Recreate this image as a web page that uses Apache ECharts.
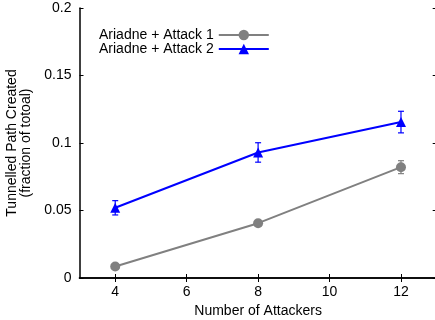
<!DOCTYPE html>
<html>
<head>
<meta charset="utf-8">
<script src="https://cdn.jsdelivr.net/npm/echarts@6/dist/echarts.min.js"></script>
<style>
html,body{margin:0;padding:0;background:#fff;}
#c{width:435px;height:320px;}
</style>
</head>
<body>
<div id="c"></div>
<script>
const attackers = [4, 8, 12];
const attack1 = [0.0085, 0.0406, 0.0821];
const attack1Err = [0.0008, 0.0015, 0.0048];
const attack2 = [0.0520, 0.0930, 0.1155];
const attack2Err = [0.0053, 0.0072, 0.0080];
const xTicks = [4, 6, 8, 10, 12];
const seriesNames = ['Ariadne + Attack 1', 'Ariadne + Attack 2'];
const xTitle = 'Number of Attackers';
const yTitle = 'Tunnelled Path Created\n(fraction of totoal)';

const FONT = 'Liberation Sans, Arial, Helvetica, sans-serif';
const GRAY = '#808080';
const BLUE = '#0000ff';

function pts(vals) { return attackers.map((x, i) => [x, vals[i]]); }
function errs(vals, e) { return attackers.map((x, i) => [x, vals[i] - e[i], vals[i] + e[i]]); }

function errRender(color) {
  return function (params, api) {
    const x = api.value(0);
    const lo = api.coord([x, api.value(1)]);
    const hi = api.coord([x, api.value(2)]);
    const hw = 3;
    const style = { stroke: color, lineWidth: 1.2, fill: null };
    return {
      type: 'group',
      children: [
        { type: 'line', shape: { x1: lo[0], y1: lo[1], x2: hi[0], y2: hi[1] }, style: style },
        { type: 'line', shape: { x1: lo[0] - hw, y1: lo[1], x2: lo[0] + hw, y2: lo[1] }, style: style },
        { type: 'line', shape: { x1: hi[0] - hw, y1: hi[1], x2: hi[0] + hw, y2: hi[1] }, style: style }
      ]
    };
  };
}

const chart = echarts.init(document.getElementById('c'), null, { renderer: 'canvas' });
const axisLine = { show: true, lineStyle: { color: '#000', width: 1.5 } };
const tickStyle = { color: '#000', width: 1 };
chart.setOption({
  animation: false,
  backgroundColor: '#fff',
  textStyle: { fontFamily: FONT },
  grid: { left: 79.5, right: -1.7, top: 8, bottom: 42, containLabel: false, outerBoundsMode: 'none' },
  legend: {
    orient: 'vertical',
    left: 99,
    top: 28,
    padding: 0,
    align: 'right',
    itemWidth: 50,
    itemHeight: 13,
    itemGap: 0,
    data: seriesNames,
    textStyle: { fontFamily: FONT, fontSize: 14, color: '#000', lineHeight: 14 }
  },
  xAxis: [
    {
      type: 'value', min: 3, max: 13, position: 'bottom',
      axisLine: axisLine,
      axisTick: { show: true, inside: true, length: 4, lineStyle: tickStyle, customValues: xTicks },
      axisLabel: { show: true, fontSize: 14, color: '#000', fontFamily: FONT, margin: 7, customValues: xTicks },
      splitLine: { show: false },
      name: xTitle, nameLocation: 'middle', nameGap: 23,
      nameTextStyle: { fontSize: 14, color: '#000', fontFamily: FONT }
    },
    {
      type: 'value', min: 3, max: 13, position: 'top',
      axisLine: axisLine,
      axisTick: { show: true, inside: true, length: 4, lineStyle: tickStyle, customValues: xTicks },
      axisLabel: { show: false },
      splitLine: { show: false }
    }
  ],
  yAxis: [
    {
      type: 'value', min: 0, max: 0.2, interval: 0.05, position: 'left',
      axisLine: axisLine,
      axisTick: { show: true, inside: true, length: 4, lineStyle: tickStyle },
      axisLabel: { show: true, fontSize: 14, color: '#000', fontFamily: FONT, margin: 8 },
      splitLine: { show: false },
      name: yTitle, nameLocation: 'middle', nameGap: 44, nameRotate: 90,
      nameTextStyle: { fontSize: 14, color: '#000', fontFamily: FONT, lineHeight: 14, align: 'center' }
    },
    {
      type: 'value', min: 0, max: 0.2, interval: 0.05, position: 'right',
      axisLine: axisLine,
      axisTick: { show: true, inside: true, length: 4, lineStyle: tickStyle },
      axisLabel: { show: false },
      splitLine: { show: false }
    }
  ],
  series: [
    {
      name: seriesNames[0], type: 'line', data: pts(attack1),
      symbol: 'circle', symbolSize: 10, showAllSymbol: true,
      itemStyle: { color: GRAY }, lineStyle: { color: GRAY, width: 2 }, z: 3
    },
    {
      type: 'custom', data: errs(attack1, attack1Err), renderItem: errRender(GRAY), z: 3, silent: true
    },
    {
      name: seriesNames[1], type: 'line', data: pts(attack2),
      symbol: 'triangle', symbolSize: 10, showAllSymbol: true,
      itemStyle: { color: BLUE }, lineStyle: { color: BLUE, width: 2 }, z: 4
    },
    {
      type: 'custom', data: errs(attack2, attack2Err), renderItem: errRender(BLUE), z: 4, silent: true
    }
  ]
});
</script>
</body>
</html>
